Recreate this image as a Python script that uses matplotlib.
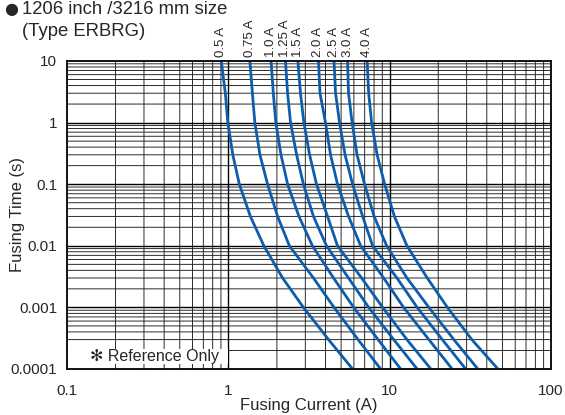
import matplotlib
matplotlib.use("Agg")
import matplotlib.pyplot as plt
from matplotlib.transforms import blended_transform_factory, offset_copy

plt.rcParams['font.family'] = ['Liberation Sans', 'DejaVu Sans']

# time levels (s) at which each curve's current was read
times = [10, 3, 1, 0.3, 0.1, 0.03, 0.01, 0.003, 0.001, 0.0003, 0.0001]

ratings = ["0.5 A", "0.75 A", "1.0 A", "1.25 A", "1.5 A", "2.0 A", "2.5 A", "3.0 A", "4.0 A"]

cur_0_5  = [0.905, 0.958, 0.993, 1.066, 1.17, 1.37, 1.66, 2.17, 2.92, 4.18, 5.89]
cur_0_75 = [1.36, 1.41, 1.46, 1.57, 1.75, 2.02, 2.39, 3.37, 4.52, 6.37, 8.79]
cur_1_0  = [1.84, 1.90, 1.97, 2.12, 2.33, 2.74, 3.32, 4.49, 5.98, 8.48, 11.7]
cur_1_25 = [2.26, 2.33, 2.43, 2.65, 2.92, 3.37, 4.06, 5.56, 7.41, 10.6, 14.8]
cur_1_5  = [2.70, 2.80, 2.94, 3.19, 3.52, 4.12, 4.75, 6.70, 9.05, 12.8, 18.0]
cur_2_0  = [3.62, 3.70, 4.00, 4.30, 4.75, 5.56, 6.61, 9.18, 12.2, 17.5, 24.4]
cur_2_5  = [4.52, 4.62, 4.89, 5.29, 5.89, 6.80, 7.84, 11.1, 14.8, 21.2, 29.6]
cur_3_0  = [5.48, 5.56, 5.85, 6.28, 6.99, 8.01, 9.58, 12.8, 17.5, 25.0, 35.2]
cur_4_0  = [7.25, 7.41, 7.73, 8.36, 9.31, 10.7, 12.8, 17.1, 22.8, 32.3, 46.9]

curves = [cur_0_5, cur_0_75, cur_1_0, cur_1_25, cur_1_5, cur_2_0, cur_2_5, cur_3_0, cur_4_0]

x_ticks = [0.1, 1, 10, 100]
x_tick_labels = ["0.1", "1", "10", "100"]
y_ticks = [0.0001, 0.001, 0.01, 0.1, 1, 10]
y_tick_labels = ["0.0001", "0.001", "0.01", "0.1", "1", "10"]

TXT = '#262626'
BLUE = '#0d5dab'

fig = plt.figure(figsize=(5.65, 4.15), dpi=100)
ax = fig.add_axes([67/565, 46/415, 484/565, 308/415])
ax.set_xscale('log')
ax.set_yscale('log')
ax.set_xlim(0.1, 100)
ax.set_ylim(0.0001, 10)

# grid lines (thin dark; anti-aliasing gives the grey/black mix)
for dec in [0.1, 1, 10]:
    for m in range(2, 10):
        ln = ax.axvline(dec * m, color='#1a1a1a', lw=0.65, zorder=1)
        ln.set_snap(False)
for dec in [0.0001, 0.001, 0.01, 0.1, 1]:
    for m in range(2, 10):
        ln = ax.axhline(dec * m, color='#1a1a1a', lw=0.65, zorder=1)
        ln.set_snap(False)
for v in x_ticks[1:-1]:
    ax.axvline(v, color='#000000', lw=1.0, zorder=1)
for v in y_ticks[1:-1]:
    ax.axhline(v, color='#000000', lw=1.0, zorder=1)

for s in ax.spines.values():
    s.set_linewidth(1.4)
    s.set_color('#111111')
    s.set_zorder(5)

ax.set_xticks(x_ticks)
ax.set_xticklabels(x_tick_labels)
ax.set_yticks(y_ticks)
ax.set_yticklabels(y_tick_labels)
ax.xaxis.set_minor_locator(matplotlib.ticker.NullLocator())
ax.yaxis.set_minor_locator(matplotlib.ticker.NullLocator())
ax.tick_params(axis='x', length=0, labelsize=11, colors=TXT, pad=11)
ax.tick_params(axis='y', length=0, labelsize=11, colors=TXT, pad=7)

# reference-only box
trans_box = blended_transform_factory(ax.transAxes, ax.transData)
ax.add_patch(plt.Rectangle((0.003, 0.000122), (228-68)/484, 0.000213-0.000122,
                           transform=trans_box, facecolor='white', edgecolor='none', zorder=3))
ax.text(23/484, 0.000162, "✻ Reference Only", transform=trans_box, fontsize=11.5,
        color=TXT, va='center', ha='left', zorder=4)

# curves
for lab, cur in zip(ratings, curves):
    ax.plot(cur, times, color=BLUE, lw=2.0, zorder=4, solid_capstyle='butt')
    tr = offset_copy(blended_transform_factory(ax.transData, ax.transAxes), fig=fig, x=0, y=4, units='dots')
    ax.text(cur[0], 1.0, lab, transform=tr, rotation=90, ha='center', va='bottom',
            fontsize=9.5, color=TXT)

ax.set_xlabel("Fusing Current (A)", fontsize=12, color=TXT)
ax.xaxis.set_label_coords(0.5, -(405 - 369) / 308)
ax.xaxis.label.set_va('center')
ax.set_ylabel("Fusing Time (s)", fontsize=12, color=TXT)
ax.yaxis.set_label_coords(-(67 - 18) / 484, 0.5)
ax.yaxis.label.set_va('center')

fig.text(11/565, 1 - 9/415, "●", fontsize=11.5, color=TXT, va='center', ha='center',
         family=['DejaVu Sans'])
fig.text(22/565, 1 - 9/415, "1206 inch /3216 mm size", fontsize=13.3, color=TXT, va='center', ha='left')
fig.text(22/565, 1 - 31/415, "(Type ERBRG)", fontsize=13.3, color=TXT, va='center', ha='left')

fig.savefig("out.png", dpi=100)
